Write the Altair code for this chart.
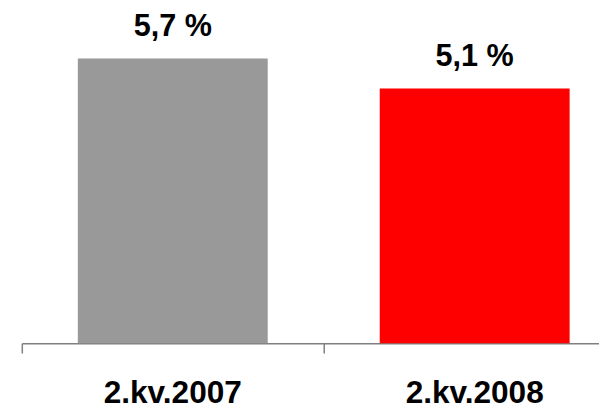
import altair as alt
import pandas as pd

categories = ["2.kv.2007", "2.kv.2008"]
values = [5.7, 5.1]
colors = ["#999999", "#FF0000"]
labels = [f"{v:.1f}".replace(".", ",") + " %" for v in values]

df = pd.DataFrame({"cat": categories, "val": values, "color": colors, "label": labels})

FONT = "Liberation Sans"

x = alt.X(
    "cat:N",
    sort=categories,
    title=None,
    scale=alt.Scale(paddingInner=0, paddingOuter=0),
    axis=alt.Axis(
        labelAngle=0,
        labelFont=FONT,
        labelFontSize=32,
        labelFontWeight="bold",
        labelColor="black",
        labelBaseline="alphabetic",
        labelPadding=50,
        bandPosition=0,
        tickSize=10,
        tickColor="#7f7f7f",
        tickWidth=1.5,
        domainColor="#7f7f7f",
        domainWidth=1.5,
        labelOverlap=False,
        labelBound=False,
        labelFlush=False,
    ),
)
y = alt.Y("val:Q", title=None, axis=None, scale=alt.Scale(domain=[0, 6.6], nice=False, zero=True))

bars = alt.Chart(df).mark_bar(width=alt.RelativeBandSize(0.629)).encode(
    x=x,
    y=y,
    color=alt.Color("color:N", scale=None),
)

text = alt.Chart(df).mark_text(
    dy=-23,
    baseline="alphabetic",
    align="center",
    font=FONT,
    fontSize=31,
    fontWeight="bold",
    color="black",
).encode(x=x, y=y, text="label:N")

chart = (
    alt.layer(bars, text)
    .properties(
        width=612,
        height=334,
        autosize=alt.AutoSizeParams(type="none"),
        padding={"left": 14, "top": 3, "right": -27, "bottom": 64},
    )
    .configure_view(stroke=None)
)

chart.save("out.html", embed_options={"renderer": "svg", "actions": False})
